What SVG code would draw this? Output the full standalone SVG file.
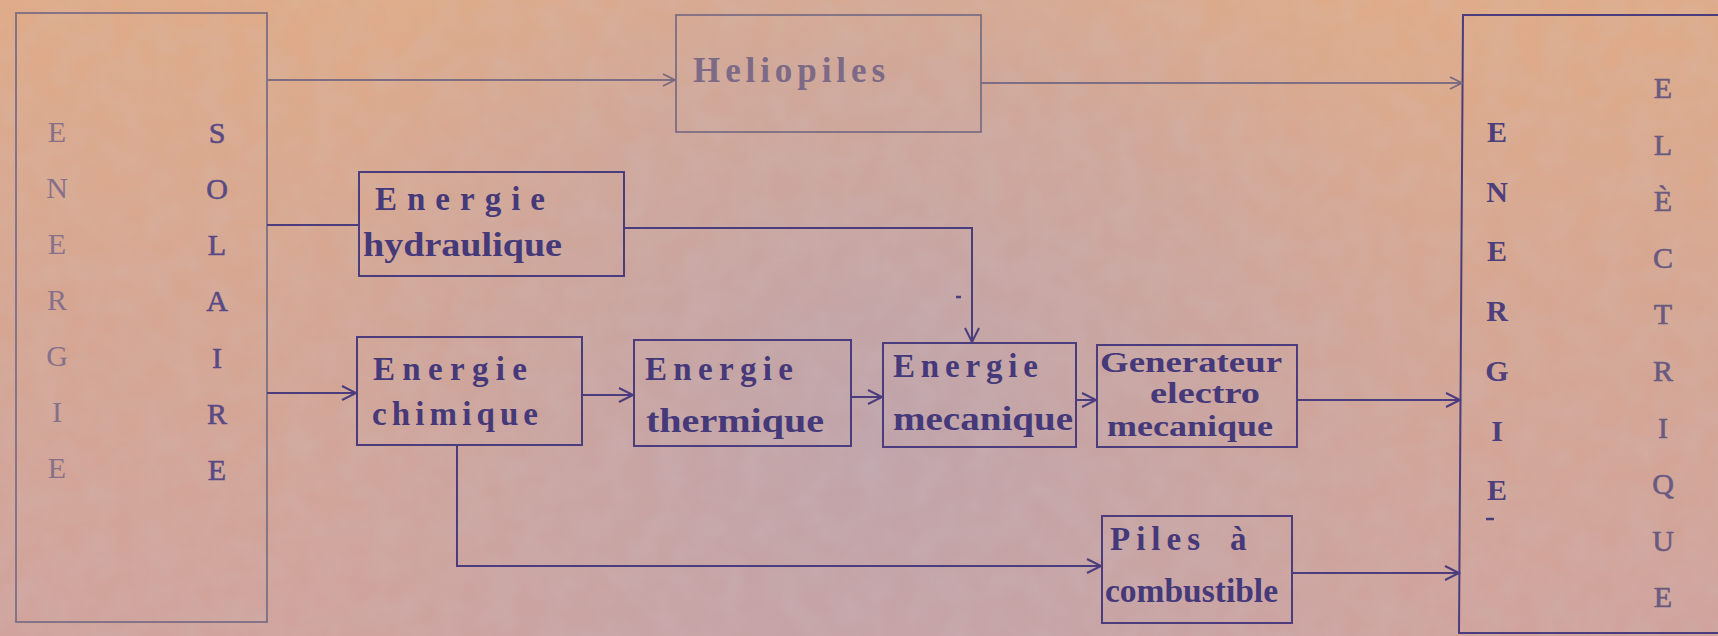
<svg xmlns="http://www.w3.org/2000/svg" width="1718" height="636" viewBox="0 0 1718 636">
<defs>
<linearGradient id="bg" x1="0" y1="0" x2="0" y2="1">
<stop offset="0" stop-color="#dfab88"/>
<stop offset="0.5" stop-color="#d6a692"/>
<stop offset="1" stop-color="#d0a39c"/>
</linearGradient>
<radialGradient id="lav" cx="880" cy="420" r="620" gradientUnits="userSpaceOnUse">
<stop offset="0" stop-color="#b7a3b3" stop-opacity="0.7"/>
<stop offset="0.6" stop-color="#bda3ae" stop-opacity="0.35"/>
<stop offset="1" stop-color="#c4a4a8" stop-opacity="0"/>
</radialGradient>
<filter id="noise" x="0" y="0" width="100%" height="100%">
<feTurbulence type="fractalNoise" baseFrequency="0.035" numOctaves="3" seed="4"/>
<feColorMatrix type="matrix" values="0 0 0 0 0.6  0 0 0 0 0.6  0 0 0 0 0.66  0 0 0 0.9 -0.25"/>
</filter>
<marker id="arr" markerUnits="userSpaceOnUse" markerWidth="20" markerHeight="20" refX="15" refY="8" orient="auto">
<path d="M1,1 L15,8 L1,15" fill="none" stroke="#4b3d7d" stroke-width="2"/>
</marker>
<marker id="arrL" markerUnits="userSpaceOnUse" markerWidth="20" markerHeight="20" refX="13" refY="7" orient="auto">
<path d="M1,1 L13,7 L1,13" fill="none" stroke="#7a6a80" stroke-width="1.8"/>
</marker>
</defs>
<style>
.box{fill:none;stroke:#4b3d7d;stroke-width:2}
.boxL{fill:none;stroke:#7d6e84;stroke-width:1.8}
.lbl{font-family:"Liberation Serif","DejaVu Serif",serif;font-weight:bold;font-size:33px;fill:#45397a}
.sm{font-size:29px}
.lblL{font-family:"Liberation Serif","DejaVu Serif",serif;font-weight:bold;font-size:35px;fill:#7d6a86}
.vl{font-family:"Liberation Serif","DejaVu Serif",serif;font-size:30px;text-anchor:middle}
.c{fill:none;stroke:#4b3d7d;stroke-width:2}
.cL{fill:none;stroke:#7d6e84;stroke-width:1.8}
.mark{stroke:#4b3d7d;stroke-width:2.5}
</style>
<rect width="1718" height="636" fill="url(#bg)"/>
<rect width="1718" height="636" fill="url(#lav)"/>
<rect width="1718" height="636" filter="url(#noise)" opacity="0.3"/>

<g id="energie-solaire">
<rect class="boxL" x="16" y="13" width="251" height="609"/>
<text class="vl" fill="#86708a"><tspan x="57" y="142">E</tspan><tspan x="57" y="198">N</tspan><tspan x="57" y="254">E</tspan><tspan x="57" y="310">R</tspan><tspan x="57" y="366">G</tspan><tspan x="57" y="422">I</tspan><tspan x="57" y="478">E</tspan></text>
<text class="vl" fill="#5a4a84" stroke="#5a4a84" stroke-width="0.6"><tspan x="217" y="143">S</tspan><tspan x="217" y="199">O</tspan><tspan x="217" y="255">L</tspan><tspan x="217" y="311">A</tspan><tspan x="217" y="368">I</tspan><tspan x="217" y="424">R</tspan><tspan x="217" y="480">E</tspan></text>
</g>

<g id="heliopiles">
<rect class="boxL" x="676" y="15" width="305" height="117"/>
<text class="lblL" x="693" y="82" textLength="192" lengthAdjust="spacing">Heliopiles</text>
</g>

<g id="energie-hydraulique">
<rect class="box" x="359" y="172" width="265" height="104"/>
<text class="lbl" x="375" y="210" textLength="170" lengthAdjust="spacing">Energie</text>
<text class="lbl" x="363" y="256" textLength="199" lengthAdjust="spacingAndGlyphs">hydraulique</text>
</g>

<g id="energie-chimique">
<rect class="box" x="357" y="337" width="225" height="108"/>
<text class="lbl" x="373" y="380" textLength="154" lengthAdjust="spacing">Energie</text>
<text class="lbl" x="372" y="425" textLength="166" lengthAdjust="spacing">chimique</text>
</g>

<g id="energie-thermique">
<rect class="box" x="634" y="340" width="217" height="106"/>
<text class="lbl" x="645" y="380" textLength="148" lengthAdjust="spacing">Energie</text>
<text class="lbl" x="646" y="432" textLength="178" lengthAdjust="spacingAndGlyphs">thermique</text>
</g>

<g id="energie-mecanique">
<rect class="box" x="883" y="343" width="193" height="104"/>
<text class="lbl" x="893" y="377" textLength="145" lengthAdjust="spacing">Energie</text>
<text class="lbl" x="893" y="430" textLength="180" lengthAdjust="spacingAndGlyphs">mecanique</text>
</g>

<g id="generateur">
<rect class="box" x="1097" y="345" width="200" height="102"/>
<text class="lbl sm" x="1100" y="372" textLength="182" lengthAdjust="spacingAndGlyphs">Generateur</text>
<text class="lbl sm" x="1150" y="403" textLength="110" lengthAdjust="spacingAndGlyphs">electro</text>
<text class="lbl sm" x="1107" y="436" textLength="166" lengthAdjust="spacingAndGlyphs">mecanique</text>
</g>

<g id="piles">
<rect class="box" x="1102" y="516" width="190" height="107"/>
<text class="lbl" x="1110" y="550" textLength="90" lengthAdjust="spacing">Piles</text>
<text class="lbl" x="1230" y="550">à</text>
<text class="lbl" x="1105" y="602" textLength="173" lengthAdjust="spacingAndGlyphs">combustible</text>
</g>

<g id="energie-electrique">
<path class="box" d="M1718,15 H1463 L1459,633 H1718"/>
<text class="vl" fill="#4d3f7c" font-weight="bold" font-size="31"><tspan x="1497" y="142">E</tspan><tspan x="1497" y="202">N</tspan><tspan x="1497" y="261">E</tspan><tspan x="1497" y="321">R</tspan><tspan x="1497" y="381">G</tspan><tspan x="1497" y="441">I</tspan><tspan x="1497" y="500">E</tspan></text>
<line class="mark" x1="1486" y1="519" x2="1494" y2="519"/>
<text class="vl" fill="#6a5a80" stroke="#6a5a80" stroke-width="0.6"><tspan x="1663" y="98">E</tspan><tspan x="1663" y="155">L</tspan><tspan x="1663" y="211">È</tspan><tspan x="1663" y="268">C</tspan><tspan x="1663" y="324">T</tspan><tspan x="1663" y="381">R</tspan><tspan x="1663" y="438">I</tspan><tspan x="1663" y="494">Q</tspan><tspan x="1663" y="551">U</tspan><tspan x="1663" y="607">E</tspan></text>
</g>

<g id="connectors">
<line class="cL" x1="267" y1="80" x2="675" y2="80" marker-end="url(#arrL)"/>
<line class="cL" x1="981" y1="83" x2="1462" y2="83" marker-end="url(#arrL)"/>
<line class="c" x1="267" y1="225" x2="359" y2="225"/>
<path class="c" d="M624,228 H972 V342" marker-end="url(#arr)"/>
<line class="mark" x1="956" y1="297" x2="961" y2="297"/>
<line class="c" x1="267" y1="393" x2="356" y2="393" marker-end="url(#arr)"/>
<line class="c" x1="582" y1="395" x2="633" y2="395" marker-end="url(#arr)"/>
<line class="c" x1="851" y1="397" x2="882" y2="397" marker-end="url(#arr)"/>
<line class="c" x1="1076" y1="400" x2="1096" y2="400" marker-end="url(#arr)"/>
<line class="c" x1="1297" y1="400" x2="1460" y2="400" marker-end="url(#arr)"/>
<path class="c" d="M457,445 V566 H1101" marker-end="url(#arr)"/>
<line class="c" x1="1292" y1="573" x2="1459" y2="573" marker-end="url(#arr)"/>
</g>
</svg>
